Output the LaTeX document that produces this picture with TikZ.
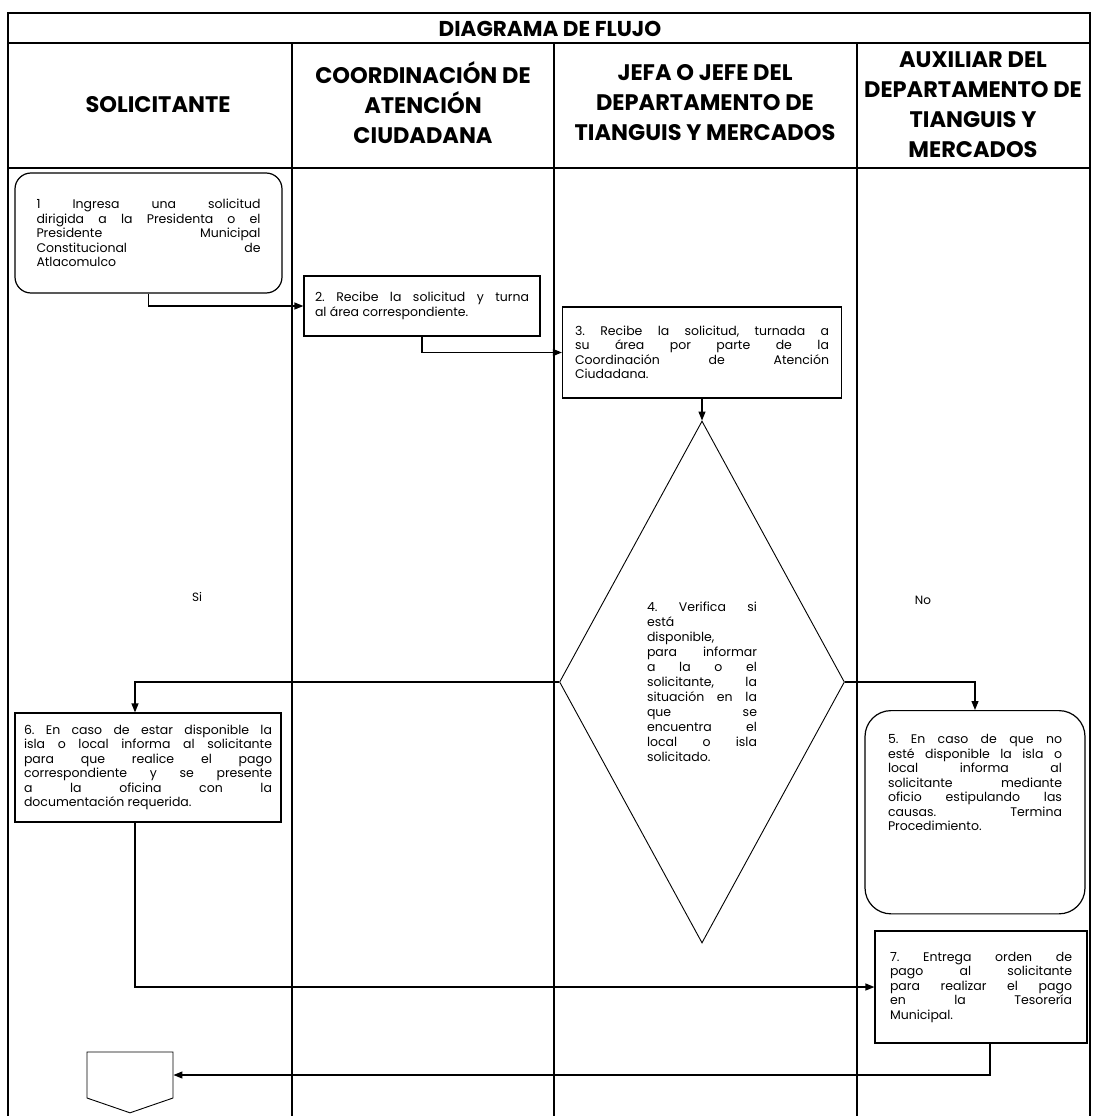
\documentclass[tikz,border=0pt]{standalone}
\usepackage{fontspec}
\setmainfont{Poppins}
\usepackage{tikz}
\usetikzlibrary{arrows.meta, positioning, shapes.geometric, shapes.symbols}
\hyphenpenalty=10000
\exhyphenpenalty=10000
\frenchspacing
\tikzset{
  lane/.style ={line width=1.5pt},
  hdr/.style  ={align=center, font=\fontsize{22.5}{30}\selectfont\bfseries},
  prc/.style  ={rectangle, draw, line width=1.2pt, align=justify, inner sep=0pt,
                font=\fontsize{12.5}{14.5}\selectfont},
  rnd/.style  ={prc, rounded corners=16pt},
  dec/.style  ={diamond, draw, line width=0.9pt, align=justify, inner sep=0pt,
                aspect=0.55, text width=110pt, minimum width=285pt, minimum height=522pt,
                font=\fontsize{12.5}{15}\selectfont},
  offp/.style ={signal, signal to=south, signal pointer angle=142, draw,
                line width=0.9pt, inner sep=0pt, minimum width=86pt, minimum height=46pt},
  lbl/.style  ={font=\fontsize{12}{14}\selectfont},
  arr/.style  ={-{Triangle[length=9pt, width=7pt]}, line width=1.2pt}
}

\begin{document}
\begin{tikzpicture}[x=1pt, y=-1pt]
  \useasboundingbox (0,0) rectangle (1093,1116);
  % carriles
  \draw[lane] (8,1116) -- (8,13) -- (1090,13) -- (1090,1116);
  \draw[lane] (8,43) -- (1090,43);
  \draw[lane] (8,168) -- (1090,168);
  \foreach \xc in {292,554,857}
    \draw[lane] (\xc,43) -- (\xc,1116);

  \node[hdr, font=\fontsize{21.5}{26}\selectfont\bfseries] (ttl) at (550,29) {DIAGRAMA DE FLUJO};
  \node[hdr] (h1) at (158,105) {SOLICITANTE};
  \node[hdr] (h2) at (423,103) {COORDINACIÓN DE\\ATENCIÓN\\CIUDADANA};
  \node[hdr] (h3) at (705,103) {JEFA O JEFE DEL\\DEPARTAMENTO DE\\TIANGUIS Y MERCADOS};
  \node[hdr] (h4) at (973,105) {AUXILIAR DEL\\DEPARTAMENTO DE\\TIANGUIS Y\\MERCADOS};

  \node[rnd, minimum width=267pt, minimum height=120pt, text width=224pt] (b1) at (148.5,233)
    {1 Ingresa una solicitud\linebreak dirigida a la Presidenta o el\linebreak Presidente Municipal\linebreak Constitucional de\linebreak Atlacomulco};
  \node[prc, minimum width=236pt, minimum height=60pt, text width=214pt] (b2) at (422,306)
    {2. Recibe la solicitud y turna\linebreak al área correspondiente.};
  \node[prc, minimum width=279pt, minimum height=91pt, text width=254pt] (b3) at (702,352.5)
    {3. Recibe la solicitud, turnada a\linebreak su área por parte de la\linebreak Coordinación de Atención\linebreak Ciudadana.};
  \node[dec] (d4) at (702,682)
    {4. Verifica si\linebreak está\linebreak disponible,\linebreak para informar\linebreak a la o el\linebreak solicitante, la\linebreak situación en la\linebreak que se\linebreak encuentra el\linebreak local o isla\linebreak solicitado.};
  \node[lbl] (si) at (197,597) {Si};
  \node[lbl] (no) at (923,600) {No};
  \node[prc, minimum width=266pt, minimum height=109pt, text width=248pt] (b6) at (148,767.5)
    {6. En caso de estar disponible la\linebreak isla o local informa al solicitante\linebreak para que realice el pago\linebreak correspondiente y se presente\linebreak a la oficina con la\linebreak documentación requerida.};
  \node[rnd, rounded corners=26pt, anchor=north, minimum width=220pt, text width=174pt,
        inner ysep=24pt, text depth=146pt] (b5) at (975,710)
    {5. En caso de que no\linebreak esté disponible la isla o\linebreak local informa al\linebreak solicitante mediante\linebreak oficio estipulando las\linebreak causas. Termina\linebreak Procedimiento.};
  \node[prc, minimum width=212pt, minimum height=112pt, text width=182pt] (b7) at (981,987)
    {7. Entrega orden de\linebreak pago al solicitante\linebreak para realizar el pago\linebreak en la Tesorería\linebreak Municipal.};
  \node[offp] (fin) at (130,1075) {};

  \draw[arr] (b1.south) |- (b2.west);
  \draw[arr] (b2.south) |- (b3.west);
  \draw[arr] (b3.south) -- (d4.north);
  \draw[arr] (d4.west) -| ([xshift=-13pt]b6.north);
  \draw[arr] (d4.east) -| (b5.north);
  \draw[arr] ([xshift=-13pt]b6.south) |- (b7.west);
  \draw[arr] ([xshift=9pt]b7.south) |- (fin.east);
\end{tikzpicture}
\end{document}
